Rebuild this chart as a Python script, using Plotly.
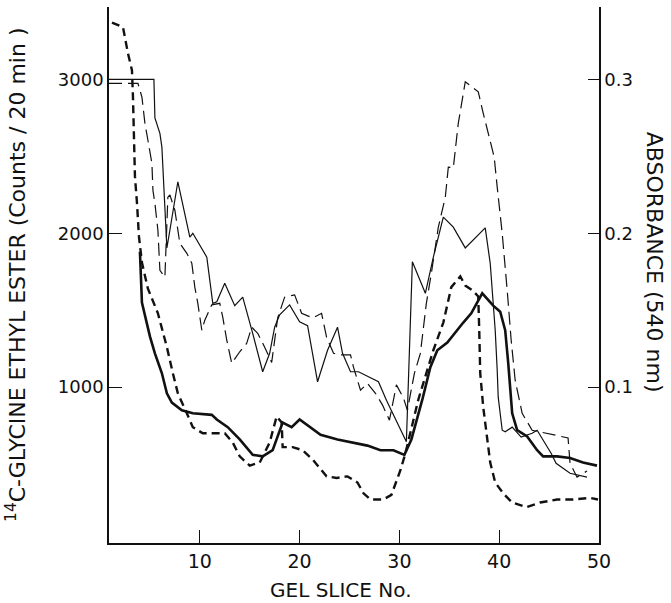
import plotly.graph_objects as go

# ---- thin solid: 14C-glycine ethyl ester counts (series A) ----
cnt_a_x = [0.9, 5.4, 5.5, 6.0, 6.2, 6.5, 6.7, 7.0, 7.8, 9.0, 9.3, 10.7, 11.3, 11.7, 12.5, 13.5,
           14.3, 15.3, 16.3, 17.0, 17.5, 18.0, 19.0, 20.0, 20.8, 21.8, 22.8, 23.8, 24.3, 25.1,
           25.9, 27.9, 28.7, 30.7, 31.3, 32.6, 33.4, 34.4, 35.4, 36.6, 38.6, 39.1, 39.6, 39.8,
           39.9, 40.3, 40.6, 41.3, 42.2, 43.3, 43.8, 45.2, 45.7, 47.1, 48.8]
cnt_a_y = [3000, 3000, 2750, 2650, 2560, 2170, 1905, 2020, 2335, 1975, 2000, 1845, 1545, 1555, 1675, 1530,
           1585, 1350, 1100, 1220, 1390, 1470, 1535, 1425, 1400, 1035, 1240, 1390, 1220, 1100,
           1100, 1035, 915, 645, 1815, 1610, 1845, 2105, 2040, 1905, 2035, 1805, 1370, 1110,
           935, 720, 710, 740, 675, 700, 720, 570, 505, 440, 415]

# ---- thin dashed: 14C-glycine ethyl ester counts (series B) ----
cnt_b_x = [0.9, 3.8, 4.2, 4.5, 4.8, 5.2, 5.3, 5.5, 5.8, 6.0, 6.5, 6.8, 7.0, 7.5, 8.0, 8.7,
           9.2, 9.5, 9.8, 10.2, 10.5, 11.2, 12.0, 12.3, 12.7, 13.2, 14.0, 14.7, 15.2, 15.8,
           16.5, 17.2, 17.8, 18.5, 19.5, 20.2, 21.3, 22.2, 22.7, 23.4, 24.1, 25.1, 25.4, 26.1,
           26.8, 27.6, 28.3, 29.0, 29.7, 30.4, 30.8, 31.5, 32.1, 32.7, 33.2, 33.9, 34.6, 34.9,
           35.4, 35.9, 36.6, 37.4, 37.9, 38.4, 38.8, 39.2, 39.5, 39.8, 40.3, 40.8, 41.2, 41.6,
           42.3, 43.3, 44.9, 46.9, 47.1, 47.8, 48.8]
cnt_b_y = [2975, 2975, 2885, 2715, 2605, 2455, 2280, 2195, 2020, 1760, 1715, 2235, 2250, 2150, 1935, 1870,
           1805, 1650, 1545, 1370, 1435, 1535, 1545, 1455, 1305, 1155, 1230, 1285, 1390, 1350,
           1260, 1160, 1450, 1585, 1600, 1480, 1450, 1480, 1325, 1220, 1210, 1210, 1130, 980,
           1025, 960, 885, 785, 1015, 930, 850, 1090, 1220, 1545, 1740, 2040, 2235, 2430,
           2425, 2715, 2985, 2945, 2920, 2780, 2670, 2575, 2495, 2300, 2000, 1630, 1305, 1045,
           830, 720, 700, 670, 505, 415, 455]

# ---- thick solid: absorbance 540 nm (series A) ----
abs_a_x = [4.0, 4.2, 5.0, 5.5, 6.2, 6.7, 7.2, 8.2, 9.3, 11.2, 11.7, 12.8, 14.0, 15.3, 16.3, 17.3,
           18.3, 19.2, 20.0, 22.1, 23.8, 25.4, 26.8, 28.1, 29.4, 30.5, 31.2, 32.3, 33.1, 33.8,
           34.8, 36.4, 37.2, 38.3, 39.4, 40.1, 40.6, 40.9, 41.3, 41.8, 42.8, 43.8, 44.4, 45.8,
           47.1, 48.4, 49.8]
abs_a_y = [0.188, 0.155, 0.133, 0.122, 0.109, 0.096, 0.090, 0.085, 0.083, 0.082, 0.079, 0.074, 0.066, 0.056, 0.055, 0.059,
           0.077, 0.074, 0.079, 0.069, 0.066, 0.064, 0.062, 0.059, 0.059, 0.056, 0.066, 0.092, 0.113, 0.124,
           0.129, 0.142, 0.148, 0.161, 0.153, 0.149, 0.137, 0.116, 0.083, 0.072, 0.068, 0.059, 0.055, 0.055,
           0.054, 0.051, 0.049]

# ---- thick dashed: absorbance 540 nm (series B) ----
abs_b_x = [1.2, 2.3, 2.8, 3.2, 3.3, 3.4, 3.5, 3.7, 3.9, 4.2, 4.5, 4.8, 5.8, 6.7, 7.3, 7.8,
           8.7, 9.3, 10.3, 11.5, 12.5, 13.3, 14.0, 15.0, 16.0, 17.0, 17.7, 18.2, 18.3, 19.3,
           20.3, 21.3, 22.7, 23.7, 24.8, 25.8, 26.4, 27.1, 28.4, 29.2, 29.8, 30.1, 30.6, 31.1,
           31.9, 32.6, 33.4, 34.4, 35.2, 36.1, 36.6, 37.3, 37.9, 38.0, 38.1, 38.4, 38.8, 39.1,
           39.6, 40.4, 41.3, 42.7, 44.1, 45.8, 47.4, 49.1, 49.9]
abs_b_y = [0.337, 0.334, 0.317, 0.306, 0.289, 0.259, 0.237, 0.220, 0.198, 0.181, 0.172, 0.164, 0.148, 0.126, 0.109, 0.096,
           0.083, 0.074, 0.070, 0.070, 0.070, 0.064, 0.055, 0.049, 0.051, 0.064, 0.081, 0.077, 0.061, 0.061,
           0.059, 0.053, 0.042, 0.041, 0.042, 0.038, 0.031, 0.027, 0.027, 0.030, 0.040, 0.046, 0.057, 0.070,
           0.092, 0.107, 0.124, 0.142, 0.165, 0.172, 0.166, 0.163, 0.159, 0.137, 0.109, 0.087, 0.066, 0.051,
           0.038, 0.031, 0.025, 0.022, 0.025, 0.027, 0.027, 0.028, 0.027]

x_ticks = [10, 20, 30, 40, 50]
left_ticks = [1000, 2000, 3000]
right_ticks = [0.1, 0.2, 0.3]
right_tick_labels = ["0.1", "0.2", "0.3"]

INK = "#111111"
FONT = "DejaVu Sans"

fig = go.Figure()
fig.add_trace(go.Scatter(x=cnt_a_x, y=cnt_a_y, mode="lines",
                         line=dict(color=INK, width=1.2)))
fig.add_trace(go.Scatter(x=cnt_b_x, y=cnt_b_y, mode="lines",
                         line=dict(color=INK, width=1.2, dash="13px,6px")))
fig.add_trace(go.Scatter(x=abs_a_x, y=abs_a_y, mode="lines", yaxis="y2",
                         line=dict(color=INK, width=2.6)))
fig.add_trace(go.Scatter(x=abs_b_x, y=abs_b_y, mode="lines", yaxis="y2",
                         line=dict(color=INK, width=2.4, dash="8px,5px")))

ymin, ymax = -13, 3471

fig.update_layout(
    width=671, height=603,
    margin=dict(l=109, r=72, t=7, b=60),
    paper_bgcolor="white", plot_bgcolor="white",
    showlegend=False,
    font=dict(family=FONT, color=INK),
    xaxis=dict(range=[0.9, 50.0], tickvals=x_ticks, ticks="inside", ticklen=13,
               tickwidth=1.3, tickcolor=INK, showline=True, linecolor=INK, linewidth=1.5,
               showgrid=False, zeroline=False, tickfont=dict(size=19, family=FONT, color=INK)),
    yaxis=dict(range=[ymin, ymax], tickvals=left_ticks, ticks="inside", ticklen=13,
               tickwidth=1.3, tickcolor=INK, showline=True, linecolor=INK, linewidth=1.5,
               showgrid=False, zeroline=False, tickfont=dict(size=18, family=FONT, color=INK)),
    yaxis2=dict(range=[ymin / 10000, ymax / 10000], tickvals=right_ticks, ticktext=right_tick_labels,
                overlaying="y", side="right", ticks="inside", ticklen=11, tickwidth=1.3,
                tickcolor=INK, showline=True, linecolor=INK, linewidth=1.5,
                showgrid=False, zeroline=False, tickfont=dict(size=18, family=FONT, color=INK)),
    annotations=[
        dict(text="GEL SLICE No.", xref="paper", yref="paper", x=0.473, y=-0.088,
             xanchor="center", yanchor="middle", showarrow=False,
             font=dict(size=20, family=FONT, color=INK)),
        dict(text="<sup>14</sup>C-GLYCINE ETHYL ESTER (Counts / 20 min )", xref="paper", yref="paper",
             x=-0.19, y=0.5, xanchor="center", yanchor="middle", textangle=-90, showarrow=False,
             font=dict(size=22, family=FONT, color=INK)),
        dict(text="ABSORBANCE (540 nm)", xref="paper", yref="paper",
             x=1.115, y=0.524, xanchor="center", yanchor="middle", textangle=90, showarrow=False,
             font=dict(size=22, family=FONT, color=INK)),
    ],
)

fig.write_html("out.html")
